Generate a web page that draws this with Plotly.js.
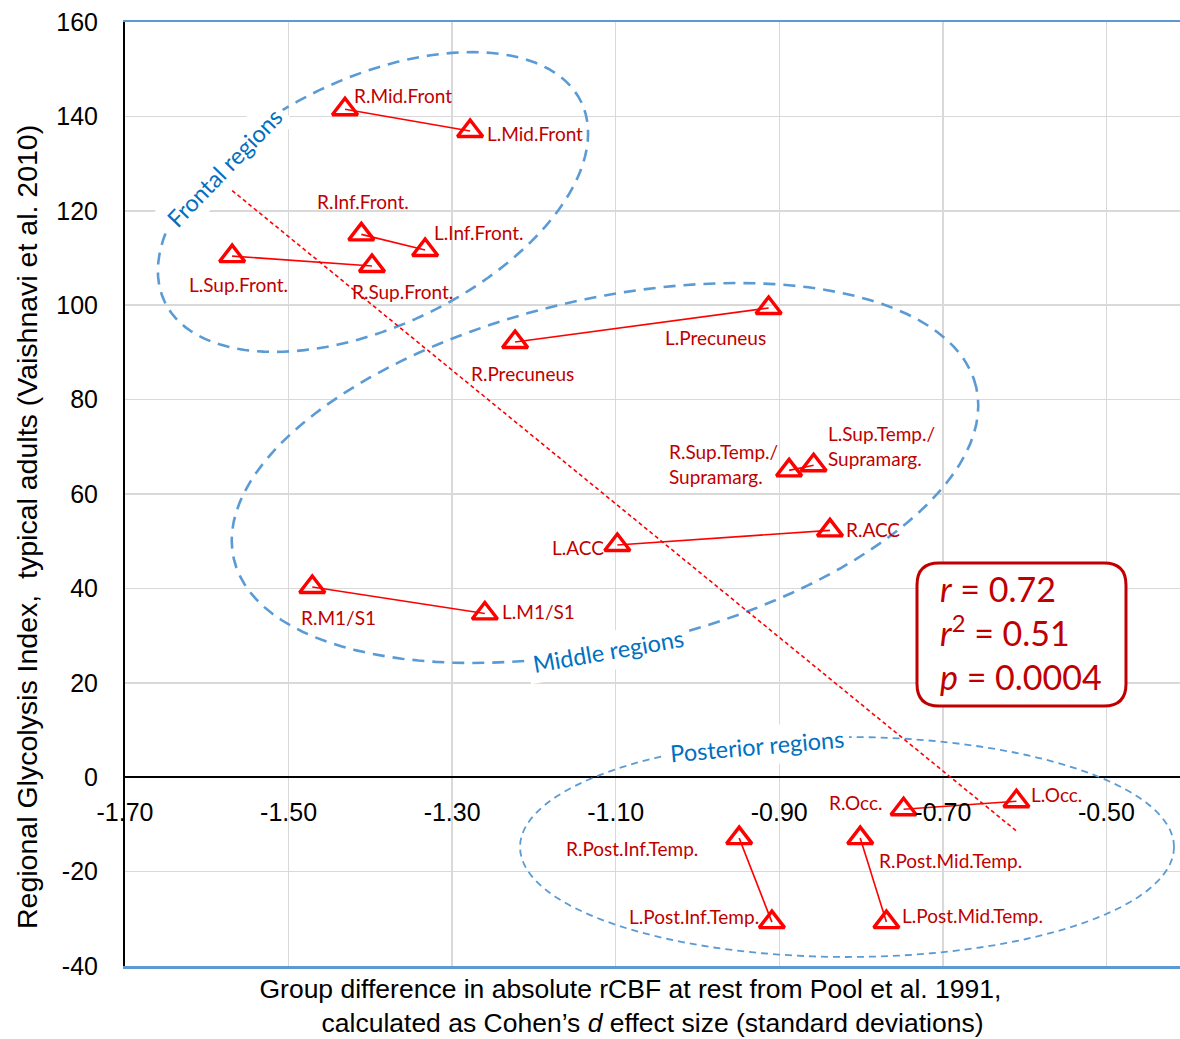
<!DOCTYPE html>
<html>
<head>
<meta charset="utf-8">
<script src="https://cdn.plot.ly/plotly-3.0.1.min.js"></script>
<style>html,body{margin:0;padding:0;background:#fff;}#chart{width:1180px;height:1039px;}</style>
</head>
<body>
<div id="chart"></div>
<script>
// ---- data ----
const rightLabels = ['R.Mid.Front','R.Inf.Front.','R.Sup.Front.','R.Precuneus','R.Sup.Temp./<br>Supramarg.','R.ACC','R.M1/S1','R.Post.Inf.Temp.','R.Post.Mid.Temp.','R.Occ.'];
const rightX = [-1.431, -1.411, -1.398, -1.223, -0.888, -0.838, -1.471, -0.949, -0.801, -0.748];
const rightY = [141.5, 115.0, 108.3, 92.2, 65.0, 52.3, 40.3, -12.9, -12.9, -6.8];
const leftLabels = ['L.Mid.Front','L.Inf.Front.','L.Sup.Front.','L.Precuneus','L.Sup.Temp./<br>Supramarg.','L.ACC','L.M1/S1','L.Post.Inf.Temp.','L.Post.Mid.Temp.','L.Occ.'];
const leftX = [-1.278, -1.333, -1.569, -0.913, -0.858, -1.098, -1.260, -0.909, -0.769, -0.610];
const leftY = [136.9, 111.7, 110.4, 99.4, 66.1, 49.2, 34.7, -30.7, -30.7, -5.1];
const groupNames = ['Frontal regions', 'Middle regions', 'Posterior regions'];
const statsText = '<i>r</i> = 0.72<br><i>r</i><sup>2</sup> = 0.51<br><i>p</i> = 0.0004';
const xTickVals = [-1.70, -1.50, -1.30, -1.10, -0.90, -0.70, -0.50];
const xTickText = ['-1.70', '-1.50', '-1.30', '-1.10', '-0.90', '-0.70', '-0.50'];
const yTickVals = [-40, -20, 0, 20, 40, 60, 80, 100, 120, 140, 160];
const yTickText = ['-40', '-20', '0', '20', '40', '60', '80', '100', '120', '140', '160'];
const xTitle = 'Group difference in absolute rCBF at rest from Pool et al. 1991,\u00A0\u00A0\u00A0\u00A0\u00A0\u00A0<br>calculated as Cohen’s <i>d</i> effect size (standard deviations)';
const yTitle = 'Regional Glycolysis Index,\u00A0 typical adults (Vaishnavi et al. 2010)';

// ---- label placement (style only) ----
const rightPlace = [
  ['left', 8, 14], ['center', 2, 33], ['left', -21, -25], ['left', -45, -31], ['right', -10, 6],
  ['left', 15, 1], ['left', -12, -31], ['right', -40, -10], ['left', 18, -22], ['right', -20, 7]
];
const leftPlace = [
  ['left', 16, -2], ['left', 8, 17], ['center', 6, -28], ['right', -2, -29], ['left', 13, 19],
  ['right', -12, -3], ['left', 16, 2], ['right', -12, 6], ['left', 15, 7], ['left', 14, 7]
];

// ---- geometry helpers (pixel frame of the plot area) ----
const XR = [-1.70, -0.41], YR = [-40, 160];
const PL = 125, PW = 1055, PT = 22, PH = 944;
const px2x = px => XR[0] + (px - PL) / PW * (XR[1] - XR[0]);
const py2y = py => YR[0] + (PT + PH - py) / PH * (YR[1] - YR[0]);

function ellipsePath(cx, cy, a, b, deg) {
  const th = deg * Math.PI / 180, n = 120;
  let d = '';
  for (let i = 0; i <= n; i++) {
    const t = 2 * Math.PI * i / n;
    const ux = a * Math.cos(t) * Math.cos(th) - b * Math.sin(t) * Math.sin(th);
    const uy = a * Math.cos(t) * Math.sin(th) + b * Math.sin(t) * Math.cos(th);
    d += (i === 0 ? 'M' : 'L') + px2x(cx + ux).toFixed(5) + ',' + py2y(cy - uy).toFixed(4);
  }
  return d + 'Z';
}
function roundRect(x0, y0, x1, y1, r) {
  const P = (px, py) => px2x(px).toFixed(5) + ',' + py2y(py).toFixed(4);
  return 'M' + P(x0 + r, y0) + 'L' + P(x1 - r, y0) + 'Q' + P(x1, y0) + ' ' + P(x1, y0 + r) +
    'L' + P(x1, y1 - r) + 'Q' + P(x1, y1) + ' ' + P(x1 - r, y1) +
    'L' + P(x0 + r, y1) + 'Q' + P(x0, y1) + ' ' + P(x0, y1 - r) +
    'L' + P(x0, y0 + r) + 'Q' + P(x0, y0) + ' ' + P(x0 + r, y0) + 'Z';
}

// ---- traces ----
const pairX = [], pairY = [];
for (let i = 0; i < rightX.length; i++) {
  pairX.push(rightX[i], leftX[i], null);
  pairY.push(rightY[i], leftY[i], null);
}
const allX = rightX.concat(leftX), allY = rightY.concat(leftY);
const n = allX.length;
const mx = allX.reduce((s, v) => s + v, 0) / n, my = allY.reduce((s, v) => s + v, 0) / n;
let sxy = 0, sxx = 0;
for (let i = 0; i < n; i++) { sxy += (allX[i] - mx) * (allY[i] - my); sxx += (allX[i] - mx) ** 2; }
const slope = sxy / sxx, icpt = my - slope * mx;
const xMin = Math.min(...allX), xMax = Math.max(...allX);

const traces = [
  { x: pairX, y: pairY, mode: 'lines', line: { color: '#FF0000', width: 1.6 }, hoverinfo: 'skip' },
  { x: [xMin, xMax], y: [icpt + slope * xMin, icpt + slope * xMax], mode: 'lines',
    line: { color: '#FF0000', width: 1.6, dash: '4px,3px' }, hoverinfo: 'skip' },
  { x: allX, y: allY, mode: 'markers',
    marker: { symbol: 'triangle-up-open', size: 22, color: '#FF0000', line: { color: '#FF0000', width: 3.4 } } },
  { x: [], y: [], xaxis: 'x2', mode: 'markers' }
];

// ---- annotations ----
const annotations = [];
function addLabels(xs, ys, labs, place) {
  for (let i = 0; i < xs.length; i++) {
    annotations.push({
      x: xs[i], y: ys[i], text: labs[i], showarrow: false,
      xanchor: place[i][0], yanchor: 'middle', xshift: place[i][1], yshift: place[i][2],
      align: 'left', borderpad: 0,
      font: { family: 'Lato, "Open Sans", sans-serif', size: 19, color: '#C00000' }
    });
  }
}
addLabels(rightX, rightY, rightLabels, rightPlace);
addLabels(leftX, leftY, leftLabels, leftPlace);

const groupPos = [[224, 168, -46], [608, 651, -10], [757, 746, -5]];
groupNames.forEach((g, i) => {
  annotations.push({
    x: px2x(groupPos[i][0]), y: py2y(groupPos[i][1]), text: g, showarrow: false,
    textangle: groupPos[i][2], bgcolor: '#FFFFFF', borderpad: 5,
    font: { family: 'Lato, "Open Sans", sans-serif', size: 23.5, color: '#0070C0' }
  });
});
annotations.push({
  xref: 'paper', yref: 'paper', x: (938 - PL) / PW, y: (PT + PH - 632) / PH,
  xanchor: 'left', yanchor: 'middle', align: 'left', showarrow: false, text: statsText,
  font: { family: 'Lato, "Open Sans", sans-serif', size: 34, color: '#C00000' }
});
// y-axis title (placed where the reference has it)
annotations.push({
  xref: 'paper', yref: 'paper', x: (27 - PL) / PW, y: (PT + PH - 527) / PH,
  xanchor: 'center', yanchor: 'middle', textangle: -90, showarrow: false, text: yTitle,
  font: { family: '"Liberation Sans", Arial, sans-serif', size: 28.5, color: '#000' }
});

// ---- shapes ----
const blue = '#5B9BD5';
const shapes = [
  { type: 'path', layer: 'between', path: ellipsePath(373, 202, 231, 124, 25.6), line: { color: blue, width: 2.6, dash: '12px,8px' } },
  { type: 'path', layer: 'between', path: ellipsePath(605, 473, 381, 174, 13), line: { color: blue, width: 2.6, dash: '12px,8px' } },
  { type: 'path', layer: 'between', path: ellipsePath(847, 847, 327, 110, 0), line: { color: blue, width: 1.8, dash: '7px,5px' } },
  { type: 'path', layer: 'between', path: roundRect(917, 563, 1126, 706, 22), fillcolor: '#FFFFFF', line: { color: '#C00000', width: 3 } }
];

const tickFont = { family: '"Liberation Sans", Arial, sans-serif', size: 25, color: '#000' };
const layout = {
  width: 1180, height: 1039,
  margin: { l: PL, r: 0, t: PT, b: 1039 - PT - PH },
  paper_bgcolor: '#fff', plot_bgcolor: '#fff',
  showlegend: false,
  xaxis: {
    range: XR, tickmode: 'array', tickvals: xTickVals, showgrid: true, gridcolor: '#D9D9D9', gridwidth: 1.5,
    showticklabels: false, ticks: '', zeroline: false,
    showline: true, linecolor: blue, linewidth: 2.5, mirror: true,
    title: { text: xTitle,
      font: { family: '"Liberation Sans", Arial, sans-serif', size: 26.5, color: '#000' }, standoff: 12 },
    automargin: false, fixedrange: true
  },
  xaxis2: {
    overlaying: 'x', anchor: 'free', position: 0.2, side: 'bottom', range: XR,
    tickmode: 'array', tickvals: xTickVals, ticktext: xTickText,
    showgrid: false, zeroline: false, showline: false,
    ticks: '', ticklabelstandoff: 18, tickfont: tickFont, automargin: false, fixedrange: true
  },
  yaxis: {
    range: YR, tickmode: 'array', tickvals: yTickVals, ticktext: yTickText,
    showgrid: true, gridcolor: '#D9D9D9', gridwidth: 1.5,
    zeroline: true, zerolinecolor: '#000', zerolinewidth: 1.8,
    showline: true, linecolor: '#000', linewidth: 2, ticks: '', ticklabelstandoff: 20,
    tickfont: tickFont,
    automargin: false, fixedrange: true
  },
  annotations: annotations,
  shapes: shapes
};

Plotly.newPlot('chart', traces, layout, { displayModeBar: false, staticPlot: true });
</script>
</body>
</html>
